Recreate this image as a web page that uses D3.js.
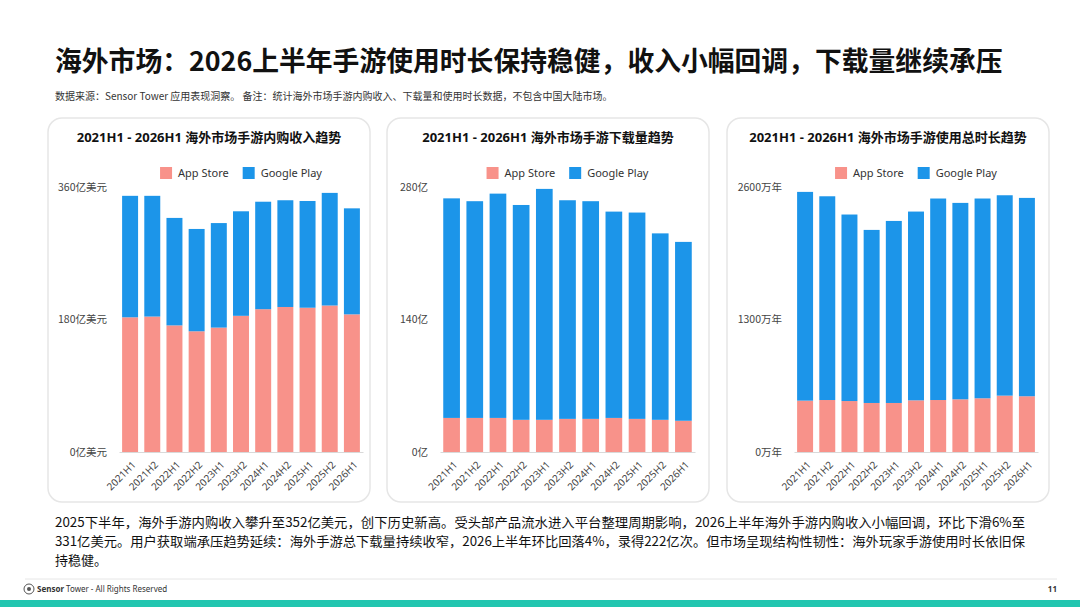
<!DOCTYPE html>
<html>
<head>
<meta charset="utf-8">
<script src="https://cdn.jsdelivr.net/npm/d3@7/dist/d3.min.js"></script>
<style>
  body { margin: 0; background: #fff; }
  svg { display: block; font-family: "Noto Sans", "Noto Sans CJK SC", sans-serif; }
</style>
</head>
<body>
<div id="chart"></div>
<script>
// 数据
const periods = ["2021H1", "2021H2", "2022H1", "2022H2", "2023H1", "2023H2",
                 "2024H1", "2024H2", "2025H1", "2025H2", "2026H1"];

// 内购收入（亿美元）
const revenueAppStore   = [183, 184, 172, 164, 169, 185, 194, 197, 196, 199, 187];
const revenueGooglePlay = [165, 164, 146, 139, 142, 142, 146, 145, 145, 153, 144];
const revenueTicks = [0, 180, 360];

// 下载量（亿）
const downloadAppStore   = [36, 36, 36, 34, 34, 35, 35, 36, 35, 34, 33];
const downloadGooglePlay = [232, 229, 237, 227, 244, 231, 230, 218, 218, 197, 189];
const downloadTicks = [0, 140, 280];

// 使用总时长（万年）
const timeAppStore   = [504, 510, 500, 481, 481, 507, 510, 517, 527, 553, 547];
const timeGooglePlay = [2048, 1999, 1830, 1698, 1786, 1852, 1977, 1927, 1960, 1966, 1946];
const timeTicks = [0, 1300, 2600];

const seriesNames = ["App Store", "Google Play"];
const colors = ["#F8928A", "#1C95E9"];

const W = 1080, H = 607;
const svg = d3.select("#chart").append("svg").attr("width", W).attr("height", H);

// 标题
svg.append("text")
    .attr("x", 55).attr("y", 71)
    .style("font-family", "'Noto Sans CJK SC', sans-serif")
    .style("font-size", "26.8px").style("font-weight", "700").style("fill", "#111")
    .text("海外市场：2026上半年手游使用时长保持稳健，收入小幅回调，下载量继续承压");

svg.append("text")
    .attr("x", 55).attr("y", 100)
    .style("font-family", "'Noto Sans CJK SC', sans-serif")
    .style("font-size", "10px").style("fill", "#333")
    .text("数据来源：Sensor Tower 应用表现洞察。 备注：统计海外市场手游内购收入、下载量和使用时长数据，不包含中国大陆市场。");

// 三个图表
const charts = [
    { title: "2021H1 - 2026H1 海外市场手游内购收入趋势", card: 48, range: [119, 363],
      a: revenueAppStore, b: revenueGooglePlay, ticks: revenueTicks, unit: "亿美元" },
    { title: "2021H1 - 2026H1 海外市场手游下载量趋势", card: 387, range: [440, 695],
      a: downloadAppStore, b: downloadGooglePlay, ticks: downloadTicks, unit: "亿" },
    { title: "2021H1 - 2026H1 海外市场手游使用总时长趋势", card: 727, range: [794, 1038],
      a: timeAppStore, b: timeGooglePlay, ticks: timeTicks, unit: "万年" }
];

const cardW = 322, cardTop = 118, cardH = 384;
const yRange = [452, 187];

charts.forEach(function (c) {
    const g = svg.append("g");

    // 卡片
    g.append("rect")
        .attr("x", c.card).attr("y", cardTop)
        .attr("width", cardW).attr("height", cardH)
        .attr("rx", 14)
        .style("fill", "#fff").style("stroke", "#e6e6e6").style("stroke-width", 1.5);

    g.append("text")
        .attr("x", c.card + cardW / 2).attr("y", cardTop + 24)
        .attr("text-anchor", "middle")
        .style("font-size", "13px").style("font-weight", "700").style("fill", "#111")
        .text(c.title);

    const x = d3.scaleBand().domain(periods).range(c.range).paddingInner(0.28).paddingOuter(0.14);
    const y = d3.scaleLinear().domain([0, c.ticks[c.ticks.length - 1]]).range(yRange);

    const rows = periods.map((p, i) => ({ period: p, a: c.a[i], b: c.b[i] }));
    const stacked = d3.stack().keys(["a", "b"])(rows);

    g.selectAll(".layer")
        .data(stacked)
        .enter()
        .append("g")
        .style("fill", (d, i) => colors[i])
        .selectAll("rect")
        .data(d => d)
        .enter()
        .append("rect")
        .attr("x", d => x(d.data.period))
        .attr("width", x.bandwidth())
        .attr("y", d => y(d[1]))
        .attr("height", d => y(d[0]) - y(d[1]));

    // Y 轴
    const yAxis = g.append("g")
        .attr("transform", `translate(${c.range[0]},0)`)
        .call(d3.axisLeft(y).tickValues(c.ticks).tickSize(0).tickPadding(12).tickFormat(d => d + c.unit));
    yAxis.select(".domain").remove();
    yAxis.selectAll("text")
        .style("font-family", "'Noto Sans CJK SC', sans-serif")
        .style("font-size", "10.5px").style("fill", "#444");

    // X 轴
    const xAxis = g.append("g")
        .attr("transform", `translate(0,${yRange[0]})`)
        .call(d3.axisBottom(x).tickSize(0));
    xAxis.select(".domain").style("stroke", "#d9d9d9");
    xAxis.selectAll("text")
        .attr("x", 0).attr("y", 0).attr("dy", "0.35em")
        .attr("transform", "translate(4,11) rotate(-45)")
        .attr("text-anchor", "end")
        .style("font-family", "'Noto Sans', sans-serif")
        .style("font-size", "10px").style("fill", "#444");

    // 图例
    const legend = g.append("g");
    let lx = 0;
    seriesNames.forEach(function (name, i) {
        const item = legend.append("g").attr("transform", `translate(${lx},0)`);
        item.append("rect").attr("x", 0).attr("y", -6).attr("width", 12).attr("height", 12)
            .style("fill", colors[i]);
        const t = item.append("text").attr("x", 18).attr("y", 4)
            .style("font-size", "11px").style("fill", "#333").text(name);
        lx += 18 + t.node().getComputedTextLength() + 14;
    });
    const legendW = lx - 14;
    const cx = (c.range[0] + c.range[1]) / 2;
    legend.attr("transform", `translate(${cx - legendW / 2},${cardTop + 55})`);
});

// 说明文字
const noteLines = [
    "2025下半年，海外手游内购收入攀升至352亿美元，创下历史新高。受头部产品流水进入平台整理周期影响，2026上半年海外手游内购收入小幅回调，环比下滑6%至",
    "331亿美元。用户获取端承压趋势延续：海外手游总下载量持续收窄，2026上半年环比回落4%，录得222亿次。但市场呈现结构性韧性：海外玩家手游使用时长依旧保",
    "持稳健。"
];
svg.append("g").selectAll("text")
    .data(noteLines)
    .enter()
    .append("text")
    .attr("x", 55)
    .attr("y", (d, i) => 527 + i * 19)
    .each(function (d, i) {
        if (i < 2) d3.select(this).attr("textLength", 970).attr("lengthAdjust", "spacingAndGlyphs");
    })
    .style("font-family", "'Noto Sans CJK SC', sans-serif")
    .style("font-size", "13px").style("fill", "#111")
    .text(d => d);

// 页脚
svg.append("line").attr("x1", 25).attr("x2", 1057).attr("y1", 579).attr("y2", 579)
    .style("stroke", "#e6e6e6");
svg.append("circle").attr("cx", 29).attr("cy", 589).attr("r", 5)
    .style("fill", "none").style("stroke", "#555").style("stroke-width", 1);
svg.append("circle").attr("cx", 29).attr("cy", 589).attr("r", 2).style("fill", "#555");
const foot = svg.append("text").attr("x", 37).attr("y", 592)
    .style("font-size", "8px").style("fill", "#333");
foot.append("tspan").style("font-weight", "700").text("Sensor");
foot.append("tspan").text(" Tower - All Rights Reserved");
svg.append("text").attr("x", 1057).attr("y", 592).attr("text-anchor", "end")
    .style("font-size", "8px").style("font-weight", "700").style("fill", "#333").text("11");

svg.append("rect").attr("x", 0).attr("y", 600).attr("width", W).attr("height", 7)
    .style("fill", "#22C6B0");
</script>
</body>
</html>
